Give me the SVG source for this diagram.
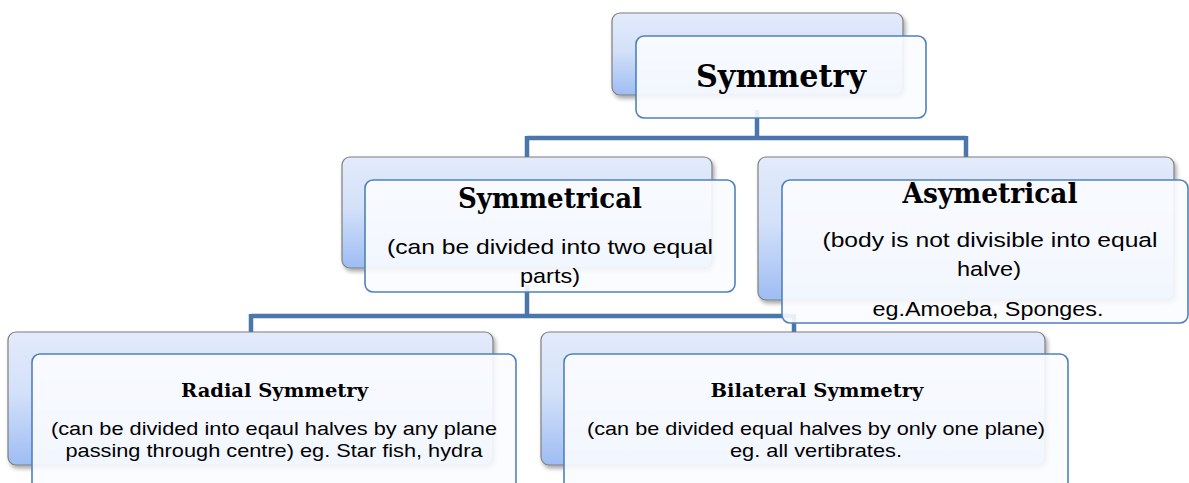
<svg xmlns="http://www.w3.org/2000/svg" width="1189" height="483" viewBox="0 0 1189 483">
  <defs>
    <linearGradient id="backGrad" x1="0" y1="0" x2="0" y2="1">
      <stop offset="0" stop-color="#e3ebfb"/>
      <stop offset="0.45" stop-color="#d4e1f9"/>
      <stop offset="1" stop-color="#9ebdf3"/>
    </linearGradient>
    <filter id="shadow" x="-10%" y="-10%" width="125%" height="130%">
      <feDropShadow dx="2" dy="3" stdDeviation="2" flood-color="#000" flood-opacity="0.35"/>
    </filter>
    <style>
      .back { fill: url(#backGrad); stroke: #7f7f7f; stroke-width: 1.2; filter: url(#shadow); }
      .front { fill: #fbfcff; fill-opacity: 0.9; stroke: #4f81bd; stroke-width: 1.6; }
      .conn { fill: none; stroke: #4a76ab; stroke-width: 4.5; }
      .title { font-family: "DejaVu Serif", "Liberation Serif", serif; font-weight: bold; fill: #000; text-anchor: middle; }
      .body { font-family: "Liberation Sans", Arial, sans-serif; fill: #000; text-anchor: middle; }
    </style>
  </defs>
  <rect width="1189" height="483" fill="#ffffff"/>

  <g id="connectors">
    <path class="conn" d="M757,110 V138 M527,138 H966 M527,136 V160 M966,136 V160"/>
    <path class="conn" d="M527,285 V316 M251,316 H794 M251,314 V334 M794,314 V334"/>
  </g>

  <g id="node-symmetry">
    <rect class="back" x="612" y="13" width="291" height="82" rx="8"/>
    <rect class="front" x="636" y="36" width="290" height="82" rx="8"/>
    <text class="title" x="781" y="87" font-size="31" textLength="170" lengthAdjust="spacingAndGlyphs">Symmetry</text>
  </g>

  <g id="node-symmetrical">
    <rect class="back" x="342" y="157" width="370" height="111" rx="8"/>
    <rect class="front" x="365" y="180" width="370" height="112" rx="8"/>
    <text class="title" x="550" y="208" font-size="27" textLength="184" lengthAdjust="spacingAndGlyphs">Symmetrical</text>
    <text class="body" x="550" y="254" font-size="21" textLength="326" lengthAdjust="spacingAndGlyphs">(can be divided into two equal</text>
    <text class="body" x="550" y="283" font-size="21" textLength="60" lengthAdjust="spacingAndGlyphs">parts)</text>
  </g>

  <g id="node-asymetrical">
    <rect class="back" x="758" y="157" width="416" height="143" rx="8"/>
    <rect class="front" x="782" y="180" width="406" height="143" rx="8"/>
    <text class="title" x="990" y="203" font-size="27" textLength="175" lengthAdjust="spacingAndGlyphs">Asymetrical</text>
    <text class="body" x="990" y="247" font-size="20.5" textLength="335" lengthAdjust="spacingAndGlyphs">(body is not divisible into equal</text>
    <text class="body" x="989" y="276" font-size="20.5" textLength="64" lengthAdjust="spacingAndGlyphs">halve)</text>
    <text class="body" x="988" y="316" font-size="20.5" textLength="231" lengthAdjust="spacingAndGlyphs">eg.Amoeba, Sponges.</text>
  </g>

  <g id="node-radial">
    <rect class="back" x="8" y="332" width="485" height="133" rx="8"/>
    <rect class="front" x="32" y="354" width="484" height="150" rx="8"/>
    <text class="title" x="274.5" y="397" font-size="19" textLength="187" lengthAdjust="spacingAndGlyphs">Radial Symmetry</text>
    <text class="body" x="274" y="435" font-size="19" textLength="446" lengthAdjust="spacingAndGlyphs">(can be divided into eqaul halves by any plane</text>
    <text class="body" x="274" y="457" font-size="19" textLength="417" lengthAdjust="spacingAndGlyphs">passing through centre) eg. Star fish, hydra</text>
  </g>

  <g id="node-bilateral">
    <rect class="back" x="541" y="332" width="504" height="133" rx="8"/>
    <rect class="front" x="564" y="354" width="504" height="150" rx="8"/>
    <text class="title" x="817" y="397" font-size="19" textLength="213" lengthAdjust="spacingAndGlyphs">Bilateral Symmetry</text>
    <text class="body" x="816" y="435" font-size="19" textLength="458" lengthAdjust="spacingAndGlyphs">(can be divided equal halves by only one plane)</text>
    <text class="body" x="816" y="457" font-size="19" textLength="172" lengthAdjust="spacingAndGlyphs">eg. all vertibrates.</text>
  </g>
</svg>
